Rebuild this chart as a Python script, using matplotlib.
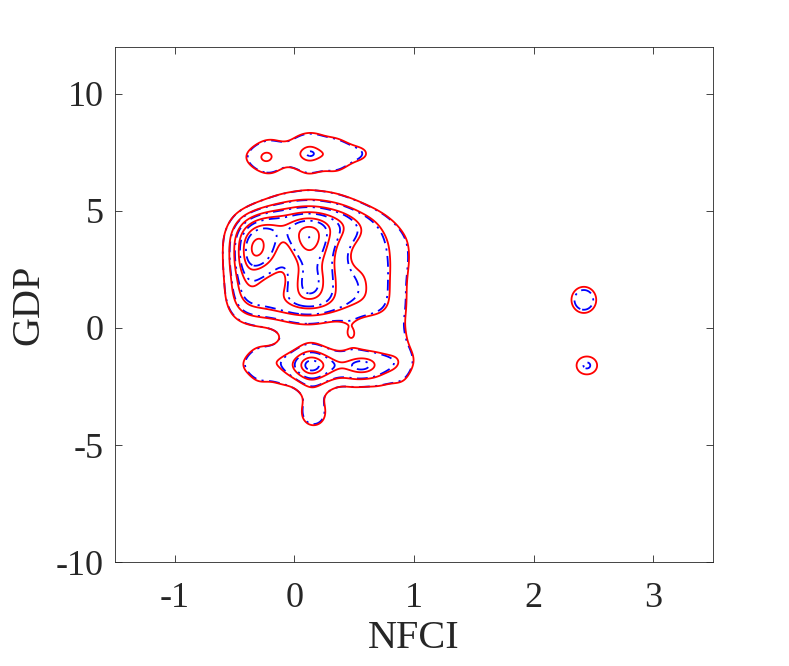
import numpy as np
import matplotlib
matplotlib.use("Agg")
import matplotlib.pyplot as plt

# ---------------- data ----------------
# main body: weights of observations on a (NFCI, GDP) lattice
main_nfci = [-0.54, -0.42, -0.30, -0.18, -0.06, 0.06, 0.18, 0.30, 0.42, 0.54, 0.66, 0.78, 0.90, 1.02]
main_gdp = [5.7, 5.1, 4.5, 3.9, 3.3, 2.7, 2.1, 1.5, 0.9, 0.3]
main_weight = [
    [0.00, 0.00, 0.00, 0.10, 0.25, 0.30, 0.30, 0.25, 0.15, 0.05, 0.00, 0.00, 0.00, 0.00],
    [0.00, 0.05, 0.35, 0.65, 0.80, 0.90, 0.90, 0.80, 0.65, 0.40, 0.20, 0.05, 0.00, 0.00],
    [0.10, 1.00, 1.60, 1.60, 1.50, 1.75, 1.75, 1.50, 1.30, 1.00, 0.75, 0.40, 0.15, 0.00],
    [0.35, 1.70, 1.80, 1.50, 1.20, 2.00, 2.00, 1.30, 1.00, 0.80, 0.70, 0.60, 0.35, 0.15],
    [0.35, 1.70, 2.10, 1.40, 1.10, 1.75, 1.75, 1.20, 0.80, 0.70, 0.70, 0.60, 0.40, 0.15],
    [0.35, 1.70, 1.60, 1.30, 1.00, 1.45, 1.45, 1.20, 0.80, 0.80, 0.80, 0.60, 0.40, 0.15],
    [0.30, 1.40, 1.00, 0.90, 0.90, 1.70, 1.70, 1.20, 0.90, 0.90, 0.80, 0.60, 0.35, 0.10],
    [0.30, 1.30, 1.00, 1.00, 1.10, 1.60, 1.60, 1.20, 0.90, 0.90, 0.80, 0.60, 0.35, 0.10],
    [0.25, 0.90, 1.00, 1.10, 1.20, 1.35, 1.35, 1.20, 1.00, 0.90, 0.80, 0.60, 0.35, 0.10],
    [0.10, 0.30, 0.35, 0.40, 0.45, 0.45, 0.45, 0.40, 0.30, 0.30, 0.40, 0.40, 0.35, 0.10],
]
# top cluster (GDP around 7.5)
top_nfci = [0.00, 0.12, 0.24, -0.27, 0.12, 0.12, -0.12, -0.20, -0.20, 0.36, 0.50, 0.62, 0.35, 0.35, -0.42, 0.00, 0.20]
top_gdp = [7.4, 7.4, 7.4, 7.3, 6.85, 7.95, 7.35, 6.8, 7.9, 7.35, 7.45, 7.45, 7.95, 6.85, 7.3, 8.3, 8.3]
top_weight = [0.8, 0.8, 0.8, 1.35, 0.65, 0.65, 0.6, 0.55, 0.55, 0.7, 0.7, 0.6, 0.55, 0.5, 0.5, 0.3, 0.3]
# bridge between the body and the lower cluster
bridge_nfci = [-0.06, 0.06, 0.18, 0.30, 0.47, 0.62, 0.78, 0.90]
bridge_gdp = [-0.35, -0.35, -0.35, -0.35, -0.30, -0.35, -0.35, -0.35]
bridge_weight = [0.4, 0.45, 0.45, 0.4, 1.32, 0.4, 0.45, 0.5]
# lower cluster (GDP around -1.6) and its tail
low_nfci = [0.06, 0.18, 0.15, 0.15, -0.06, 0.30, 0.42, 0.54, 0.63, 0.78, 0.90, 1.00, -0.20, -0.32, -0.45,
            -0.30, -0.10, 0.10, 0.30, 0.50, 0.70, 0.90, -0.30, -0.10, 0.10, 0.30, 0.50, 0.70, 0.90,
            0.16, 0.16]
low_gdp = [-1.6, -1.6, -1.1, -2.1, -1.55, -1.6, -1.6, -1.6, -1.6, -1.55, -1.5, -1.4, -1.5, -1.5, -1.6,
           -0.95, -0.95, -0.95, -0.95, -0.95, -0.95, -0.95, -2.3, -2.3, -2.3, -2.3, -2.3, -2.3, -2.3,
           -3.7, -2.9]
low_weight = [1.9, 2.1, 0.6, 0.6, 0.9, 1.3, 1.4, 1.4, 1.6, 1.2, 0.7, 0.3, 0.9, 0.7, 0.5,
              0.5, 0.5, 0.5, 0.5, 0.4, 0.5, 0.5, 0.6, 0.6, 0.6, 0.6, 0.6, 0.6, 0.6,
              1.6, 0.7]
# isolated observations at high NFCI
outlier_nfci = [2.42, 2.42, 2.40, 2.49]
outlier_gdp = [1.05, 1.35, -1.6, -1.6]
outlier_weight = [1.02, 1.02, 0.8, 0.8]

blue_gain = 0.95
blue_gain_outlier = 0.8

bandwidth = (0.09, 0.46)
blue_bw_factor = 1.05
levels = [1, 2, 3, 4, 5, 6, 7, 8]

x_ticks = [-1, 0, 1, 2, 3]
y_ticks = [-10, -5, 0, 5, 10]

# ---------------- kernel density ----------------
def kde(X, Y, xs, ys, ws, f):
    hx, hy = bandwidth[0] * f, bandwidth[1] * f
    Z = np.zeros_like(X)
    for cx, cy, w in zip(xs, ys, ws):
        if w > 0:
            Z += w / (f * f) * np.exp(-0.5 * (((X - cx) / hx) ** 2 + ((Y - cy) / hy) ** 2))
    return Z

mx, my, mw = [], [], []
for j, gy_ in enumerate(main_gdp):
    for i, gx_ in enumerate(main_nfci):
        mx.append(gx_); my.append(gy_); mw.append(main_weight[j][i])
body_x = mx + top_nfci + bridge_nfci + low_nfci
body_y = my + top_gdp + bridge_gdp + low_gdp
body_w = mw + top_weight + bridge_weight + low_weight

gx = np.linspace(-1.5, 3.5, 700)
gy = np.linspace(-10, 12, 900)
X, Y = np.meshgrid(gx, gy)
Zr = kde(X, Y, body_x, body_y, body_w, 1.0) + kde(X, Y, outlier_nfci, outlier_gdp, outlier_weight, 1.0)
Zb = (blue_gain * kde(X, Y, body_x, body_y, body_w, blue_bw_factor)
      + blue_gain_outlier * kde(X, Y, outlier_nfci, outlier_gdp, outlier_weight, blue_bw_factor))

plt.rcParams['font.family'] = ['Liberation Serif', 'DejaVu Serif']

fig = plt.figure(figsize=(7.89, 6.66), dpi=100)
ax = fig.add_axes([0.1458, 0.156, 0.7579, 0.7734])

ax.contour(X, Y, Zb, levels=levels, colors=[(0, 0, 1)], linewidths=1.3,
           linestyles=[(0, (6, 3, 1.2, 3))])
ax.contour(X, Y, Zr, levels=levels, colors=[(1, 0, 0)], linewidths=1.3,
           linestyles='solid')

ax.set_xlim(-1.5, 3.5)
ax.set_ylim(-10, 12)
ax.set_xticks(x_ticks)
ax.set_yticks(y_ticks)
ax.set_xticklabels([str(v) for v in x_ticks])
ax.set_yticklabels([str(v) for v in y_ticks])
ax.tick_params(direction='in', top=True, right=True, labelsize=26, colors='0.15',
               length=5, width=0.6)
ax.tick_params(axis='x', pad=14)
ax.tick_params(axis='y', pad=8)
for s in ax.spines.values():
    s.set_color('0.15')
    s.set_linewidth(0.6)
ax.set_xlabel('NFCI', fontsize=29, color='0.15', labelpad=4)
ax.set_ylabel('GDP', fontsize=29, color='0.15', labelpad=6)

fig.savefig('out.png', dpi=100)
